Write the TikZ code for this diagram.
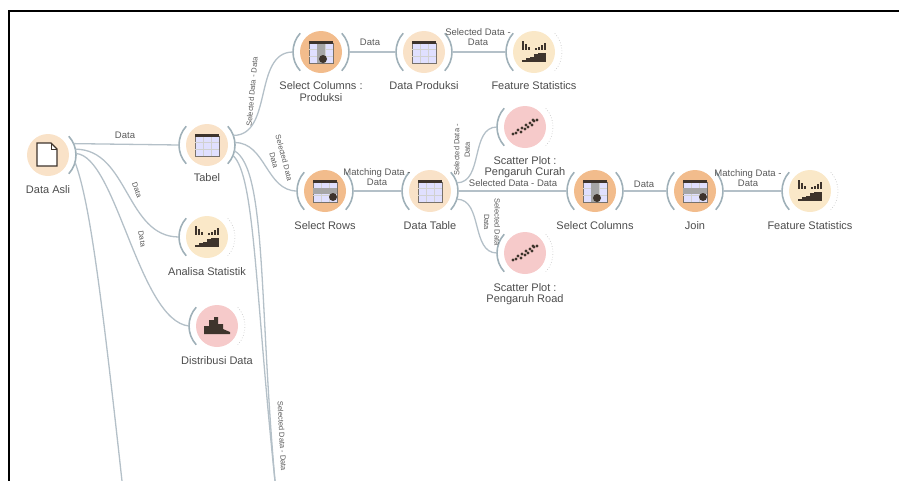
\documentclass[tikz,border=0pt]{standalone}
\usepackage{fontspec}
\setmainfont{Liberation Sans}
\usepackage{tikz}
\usetikzlibrary{positioning}

\definecolor{selorange}{HTML}{F2BC8C}
\definecolor{taborange}{HTML}{F9E2C8}
\definecolor{statcream}{HTML}{FAE8C8}
\definecolor{vispink}{HTML}{F6CACA}
\definecolor{wireblue}{HTML}{B4C0C8}
\definecolor{portblue}{HTML}{9FB0B8}
\definecolor{icondark}{HTML}{3E342C}

\begin{document}
\begin{tikzpicture}[
    x=1pt, y=1pt, on grid,
    wgt/.style={circle, minimum size=42pt, inner sep=0pt, outer sep=7pt},
    wgtsel/.style={wgt, fill=selorange},
    wgttab/.style={wgt, fill=taborange},
    wgtstat/.style={wgt, fill=statcream},
    wgtvis/.style={wgt, fill=vispink},
    lbl/.style={font=\fontsize{11}{11.5}\selectfont, align=center, text=black!70, inner sep=0pt},
    edgelbl/.style={font=\fontsize{9.5}{10.5}\selectfont, align=center, text=black!65, inner sep=0pt},
    edgerot/.style={font=\fontsize{7.5}{10.5}\selectfont, align=center, text=black!65, inner sep=0pt},
    wire/.style={draw=wireblue, line width=1.3pt},
    portarc/.style={draw=portblue, line width=1.6pt},
    portfaint/.style={draw=black!22, line width=0.7pt, dotted},
    frameline/.style={draw=black, line width=1.6pt},
    tableicon/.pic={
        \draw[draw=icondark!70, fill=white!88!blue, line width=0.7pt] (-12,-11) rectangle (12,9);
        \draw[draw=black!18, line width=0.4pt] (-4,-11) -- (-4,9) (4,-11) -- (4,9) (-12,-4) -- (12,-4) (-12,3) -- (12,3);
        \fill[icondark] (-12,8) rectangle (12,11.5);
    },
    colsicon/.pic={
        \pic {tableicon};
        \fill[black!35] (-4,-11) rectangle (4,8);
        \fill[icondark] (2,-7) circle (4pt);
    },
    rowsicon/.pic={
        \pic {tableicon};
        \fill[black!35] (-12,-3) rectangle (12,3);
        \fill[icondark] (8,-6) circle (4pt);
    },
    staticon/.pic={
        \foreach \xx/\hh in {-11/9, -8/6, -5/3, 2/2, 5/3, 8/5, 11/7}
            \fill[icondark] (\xx-1.2,2) rectangle (\xx+1.2,2+\hh);
        \foreach \xx/\hh in {-10/2, -6/4, -2/5, 2/8, 6/9, 10/9}
            \fill[icondark] (\xx-1.8,-10) rectangle (\xx+1.8,-10+\hh);
    },
    scattericon/.pic={
        \foreach \xx/\yy in {-12/-7, -9/-6, -7/-3, -4/-5, -3/-1, 0/-2, 1/2, 3/0, 5/4, 7/2, 9/6, 12/7, 8/7}
            \fill[icondark] (\xx,\yy) circle (1.6pt);
    },
    histicon/.pic={
        \fill[icondark] (-13,-8) -- (-13,0) -- (-8,0) -- (-8,6) -- (-3,6) -- (-3,9) -- (1,9) -- (1,2) -- (6,2) -- (6,-3) -- (13,-6) -- (13,-8) -- cycle;
    },
    fileicon/.pic={
        \draw[draw=icondark, fill=white, line width=1.1pt] (-11,-11) -- (-11,12) -- (3,12) -- (9,6) -- (9,-11) -- cycle;
        \draw[draw=icondark, line width=0.8pt] (3,12) -- (3,6) -- (9,6);
    }
]
    \useasboundingbox (0,0) rectangle (899,-480);

    \node[wgttab] (dataasli) at (48,-155) {};
    \node[wgttab, above right=10pt and 159pt of dataasli] (tabel) {};
    \node[wgtsel, above right=93pt and 114pt of tabel] (selcolprod) {};
    \node[wgttab, right=103pt of selcolprod] (dataprod) {};
    \node[wgtstat, right=110pt of dataprod] (statprod) {};
    \node[wgtsel, below right=46pt and 118pt of tabel] (selrows) {};
    \node[wgttab, right=105pt of selrows] (datatable) {};
    \node[wgtvis, above right=64pt and 95pt of datatable] (scatcurah) {};
    \node[wgtvis, below right=62pt and 95pt of datatable] (scatroad) {};
    \node[wgtsel, right=165pt of datatable] (selcol) {};
    \node[wgtsel, right=100pt of selcol] (join) {};
    \node[wgtstat, right=115pt of join] (statjoin) {};
    \node[wgtstat, below=92pt of tabel] (analisa) {};
    \node[wgtvis, below right=181pt and 10pt of tabel] (distrib) {};

    \node[lbl, below=35pt of dataasli] (ldataasli) {Data Asli};
    \node[lbl, below=33pt of tabel] (ltabel) {Tabel};
    \node[lbl, below=39.5pt of selcolprod] (lselcolprod) {Select Columns :\\Produksi};
    \node[lbl, below=34pt of dataprod] (ldataprod) {Data Produksi};
    \node[lbl, below=34pt of statprod] (lstatprod) {Feature Statistics};
    \node[lbl, below=40pt of scatcurah] (lscatcurah) {Scatter Plot :\\Pengaruh Curah};
    \node[lbl, below=41pt of scatroad] (lscatroad) {Scatter Plot :\\Pengaruh Road};
    \node[lbl, below=35pt of selrows] (lselrows) {Select Rows};
    \node[lbl, below=35pt of datatable] (ldatatable) {Data Table};
    \node[lbl, below=35pt of selcol] (lselcol) {Select Columns};
    \node[lbl, below=35pt of join] (ljoin) {Join};
    \node[lbl, below=35pt of statjoin] (lstatjoin) {Feature Statistics};
    \node[lbl, below=35pt of analisa] (lanalisa) {Analisa Statistik};
    \node[lbl, below=35pt of distrib] (ldistrib) {Distribusi Data};

    % icons
    \pic at (dataasli) {fileicon};
    \foreach \n in {tabel, dataprod, datatable}
        \pic at (\n) {tableicon};
    \foreach \n in {selcolprod, selcol}
        \pic at (\n) {colsicon};
    \foreach \n in {selrows, join}
        \pic at (\n) {rowsicon};
    \foreach \n in {statprod, statjoin, analisa}
        \pic at (\n) {staticon};
    \foreach \n in {scatcurah, scatroad}
        \pic at (\n) {scattericon};
    \pic at (distrib) {histicon};

    % port arcs
    \foreach \n in {tabel, selcolprod, dataprod, statprod, selrows, datatable, scatcurah, scatroad, selcol, join, statjoin, analisa, distrib}
        \draw[portarc] (\n.138) arc (138:222:28pt);
    \foreach \n in {dataasli, tabel, selcolprod, dataprod, selrows, datatable, selcol, join}
        \draw[portarc] (\n.42) arc (42:-42:28pt);
    \foreach \n in {statprod, scatcurah, scatroad, statjoin, analisa, distrib}
        \draw[portfaint] (\n.42) arc (42:-42:28pt);

    \coordinate (asliend) at (122,-481);
    \coordinate (tabelend) at (275,-481);
    \coordinate (frametop) at (9,-11);
    \coordinate (framebot) at (9,-481);
    \coordinate (frameright) at (900,-11);

    \draw[frameline] (framebot) -- (frametop) -- (frameright);

    % connectors
    \draw[wire] (dataasli.24) -- (tabel.west);
    \draw[wire] (dataasli.12) to[out=0, in=180] (analisa.west);
    \draw[wire] (dataasli.3) .. controls +(40,-2) and +(-50,5) .. (distrib.west);
    \draw[wire] (dataasli.-15) .. controls +(14,-38) and +(-22,200) .. (asliend);
    \draw[wire] (tabel.20) to[out=0, in=180] (selcolprod.west);
    \draw[wire] (tabel.5) to[out=0, in=180] (selrows.west);
    \draw[wire] (tabel.-12) .. controls +(32,-18) and +(-16,180) .. (tabelend);
    \draw[wire] (tabel.-22) .. controls +(22,-20) and +(-20,190) .. (tabelend);
    \draw[wire] (selcolprod.east) -- (dataprod.west);
    \draw[wire] (dataprod.east) -- (statprod.west);
    \draw[wire] (selrows.east) -- (datatable.west);
    \draw[wire] (datatable.east) -- (selcol.west);
    \draw[wire] (datatable.17) to[out=0, in=180] (scatcurah.west);
    \draw[wire] (datatable.-17) to[out=0, in=180] (scatroad.west);
    \draw[wire] (selcol.east) -- (join.west);
    \draw[wire] (join.east) -- (statjoin.west);

    % connector labels
    \node[edgelbl] (easlitabel) at (125,-135) {Data};
    \node[edgerot, rotate=-70] (easlianalisa) at (137,-190) {Data};
    \node[edgerot, rotate=-80] (easlidistrib) at (142,-239) {Data};
    \node[edgerot, rotate=85] (etabelprod) at (252,-92) {Selected Data - Data};
    \node[edgerot, rotate=-75] (etabelrows) at (279,-159) {Selected Data\\Data};
    \node[edgerot, rotate=-87] (etabelend) at (282,-436) {Selected Data - Data};
    \node[edgelbl] (eselprod) at (370,-42) {Data};
    \node[edgelbl] (eprodstat) at (478,-37) {Selected Data -\\Data};
    \node[edgelbl] (erowstable) at (377,-177) {Matching Data -\\Data};
    \node[edgerot, rotate=90] (etablecurah) at (462,-150) {Selected Data -\\Data};
    \node[edgelbl] (etablecol) at (513,-183.5) {Selected Data - Data};
    \node[edgerot, rotate=-90] (etableroad) at (492,-222) {Selected Data\\Data};
    \node[edgelbl] (ecoljoin) at (644,-184) {Data};
    \node[edgelbl] (ejoinstat) at (748,-178) {Matching Data -\\Data};
\end{tikzpicture}
\end{document}
